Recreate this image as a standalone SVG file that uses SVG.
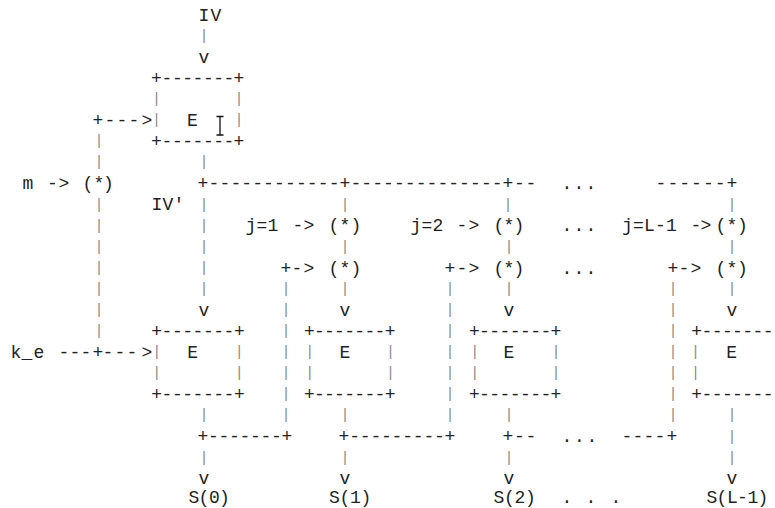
<svg xmlns="http://www.w3.org/2000/svg" width="775" height="508" viewBox="0 0 775 508">
<style>
text{font-family:"Liberation Mono","DejaVu Sans Mono",monospace;font-size:18px;fill:#222;text-anchor:middle}
text.b{fill:#8a8a8a;font-size:15px;transform:translateY(-1.7px)}
</style>
<rect width="775" height="508" fill="#fff"/>
<g id="connectors">
<text class="b" x="204" y="41.6">|</text>
<text x="204" y="62.7">v</text>
<text x="98 110 122 134 147" y="126">+---&gt;</text>
<text class="b" x="99" y="147">|</text>
<text class="b" x="99 204" y="168.1">||</text>
<text x="52.5 64" y="189.2">-&gt;</text>
<text x="203 213.9 224.8 235.8 246.7 257.6 268.5 279.5 290.4 301.3 312.2 323.2 334.1 345 355.9 366.7 377.6 388.5 399.3 410.2 421.1 431.9 442.8 453.7 464.5 475.4 486.3 497.1 508 519.5 531" y="189.2">+------------+--------------+--</text>
<text x="567 579 591" y="189.2">...</text>
<text x="661 672.8 684.7 696.5 708.3 720.2 732" y="189.2">------+</text>
<text class="b" x="99" y="210.3">|</text>
<text class="b" x="204 345 508 732" y="210.3">||||</text>
<text class="b" x="99 204" y="231.4">||</text>
<text x="298 309" y="231.4">-&gt;</text>
<text x="462 474" y="231.4">-&gt;</text>
<text x="567 579 591" y="231.4">...</text>
<text x="696 706" y="231.4">-&gt;</text>
<text class="b" x="99 204 345 509 732" y="252.5">|||||</text>
<text class="b" x="99 204" y="273.6">||</text>
<text x="286 297 309" y="273.6">+-&gt;</text>
<text x="450 462 474" y="273.6">+-&gt;</text>
<text x="567 579 591" y="273.6">...</text>
<text x="673 684 696" y="273.6">+-&gt;</text>
<text class="b" x="99 204 286 345 450 509 673 732" y="294.7">||||||||</text>
<text class="b" x="99" y="315.8">|</text>
<text x="204" y="315.8">v</text>
<text class="b" x="286" y="315.8">|</text>
<text x="345" y="315.8">v</text>
<text class="b" x="450" y="315.8">|</text>
<text x="509" y="315.8">v</text>
<text class="b" x="673" y="315.8">|</text>
<text x="732" y="315.8">v</text>
<text class="b" x="99" y="336.9">|</text>
<text class="b" x="286" y="336.9">|</text>
<text class="b" x="450" y="336.9">|</text>
<text class="b" x="673" y="336.9">|</text>
<text x="64 75 86 98 108 120 132 147" y="357.9">---+---&gt;</text>
<text class="b" x="286" y="357.9">|</text>
<text class="b" x="450" y="357.9">|</text>
<text class="b" x="673" y="357.9">|</text>
<text class="b" x="286" y="379">|</text>
<text class="b" x="450" y="379">|</text>
<text class="b" x="673" y="379">|</text>
<text class="b" x="286" y="400.1">|</text>
<text class="b" x="450" y="400.1">|</text>
<text class="b" x="673" y="400.1">|</text>
<text class="b" x="204 286 345 450 509 673 732" y="421.2">|||||||</text>
<text x="203 213.5 224 234.5 245 255.5 266 276.5 287" y="442.3">+-------+</text>
<text x="344 354.6 365.2 375.8 386.4 397 407.6 418.2 428.8 439.4 450" y="442.3">+---------+</text>
<text x="508 519.5 531" y="442.3">+--</text>
<text x="567 579.5 592" y="442.3">...</text>
<text x="627 638 649 660 672" y="442.3">----+</text>
<text class="b" x="732" y="442.3">|</text>
<text class="b" x="204 345 509 732" y="463.4">||||</text>
<text x="204" y="484">v</text>
<text x="345" y="484">v</text>
<text x="509" y="484">v</text>
<text x="732" y="484">v</text>
<text x="567 591 616" y="502.5">...</text>
</g>
<g id="IV"><text x="204 216" y="20.5">IV</text></g>
<g id="E_top">
<text x="156.5 167 177.3 187.7 198 208.3 218.6 229 239" y="83.8">+-------+</text>
<text class="b" x="156.5" y="104.9">|</text>
<text class="b" x="239" y="104.9">|</text>
<text class="b" x="156.5" y="126">|</text>
<text x="192.5" y="126">E</text>
<text class="b" x="239" y="126">|</text>
<text x="156.5 167 177.3 187.7 198 208.3 218.6 229 239" y="147">+-------+</text>
</g>
<g id="cursor"><path d="M216.5 116.5h7M220 116.5v18.5M216.5 135h7" fill="none" stroke="#111" stroke-width="1.3"/></g>
<g id="m"><text x="28" y="189.2">m</text></g>
<g id="mix_m"><text x="88 99 108.5" y="189.2">(*)</text></g>
<g id="IVp"><text x="157 168 179" y="210.3">IV'</text></g>
<g id="j1"><text x="251 262 273" y="231.4">j=1</text></g>
<g id="j2"><text x="416 427 438" y="231.4">j=2</text></g>
<g id="jL"><text x="627.5 638.5 649.5 660.5 671.5" y="231.4">j=L-1</text></g>
<g id="mix_1a"><text x="334 345 356" y="231.4">(*)</text></g>
<g id="mix_2a"><text x="499 509 519" y="231.4">(*)</text></g>
<g id="mix_La"><text x="721 732 742.5" y="231.4">(*)</text></g>
<g id="mix_1b"><text x="334 345 356" y="273.6">(*)</text></g>
<g id="mix_2b"><text x="499 509 519" y="273.6">(*)</text></g>
<g id="mix_Lb"><text x="721 732 742.5" y="273.6">(*)</text></g>
<g id="k_e"><text x="16 27 39" y="357.9">k_e</text></g>
<g id="E0">
<text x="156.7 167 177.3 187.7 198 208.3 218.6 229 239.3" y="336.9">+-------+</text>
<text class="b" x="156.7" y="357.9">|</text>
<text x="192.7" y="357.9">E</text>
<text class="b" x="239.3" y="357.9">|</text>
<text class="b" x="156.7" y="379">|</text>
<text class="b" x="239.3" y="379">|</text>
<text x="156.7 167 177.3 187.7 198 208.3 218.6 229 239.3" y="400.1">+-------+</text>
</g>
<g id="E1">
<text x="309.5 319.5 329.5 339.5 349.6 359.7 369.8 379.9 390.2" y="336.9">+-------+</text>
<text class="b" x="309.8" y="357.9">|</text>
<text x="345" y="357.9">E</text>
<text class="b" x="390.5" y="357.9">|</text>
<text class="b" x="309.8" y="379">|</text>
<text class="b" x="390.5" y="379">|</text>
<text x="309.5 319.5 329.5 339.5 349.6 359.7 369.8 379.9 390.2" y="400.1">+-------+</text>
</g>
<g id="E2">
<text x="474.4 484.5 494.7 504.9 515.1 525.4 535.6 545.8 556" y="336.9">+-------+</text>
<text class="b" x="474.8" y="357.9">|</text>
<text x="509" y="357.9">E</text>
<text class="b" x="556" y="357.9">|</text>
<text class="b" x="474.8" y="379">|</text>
<text class="b" x="556" y="379">|</text>
<text x="474.4 484.5 494.7 504.9 515.1 525.4 535.6 545.8 556" y="400.1">+-------+</text>
</g>
<g id="E3">
<text x="696.7 706.9 717.1 727.3 737.5 747.7 757.9 768.1" y="336.9">+-------</text>
<text class="b" x="695.5" y="357.9">|</text>
<text x="731.7" y="357.9">E</text>
<text class="b" x="695.5" y="379">|</text>
<text x="696.7 706.9 717.1 727.3 737.5 747.7 757.9 768.1" y="400.1">+-------</text>
</g>
<g id="S0"><text x="194 204 214.5 224.5" y="502.5">S(0)</text></g>
<g id="S1"><text x="334.5 345 355.5 366" y="502.5">S(1)</text></g>
<g id="S2"><text x="499 509.5 520 530.5" y="502.5">S(2)</text></g>
<g id="SL"><text x="712 722 732.5 742.5 753 763" y="502.5">S(L-1)</text></g>
</svg>
